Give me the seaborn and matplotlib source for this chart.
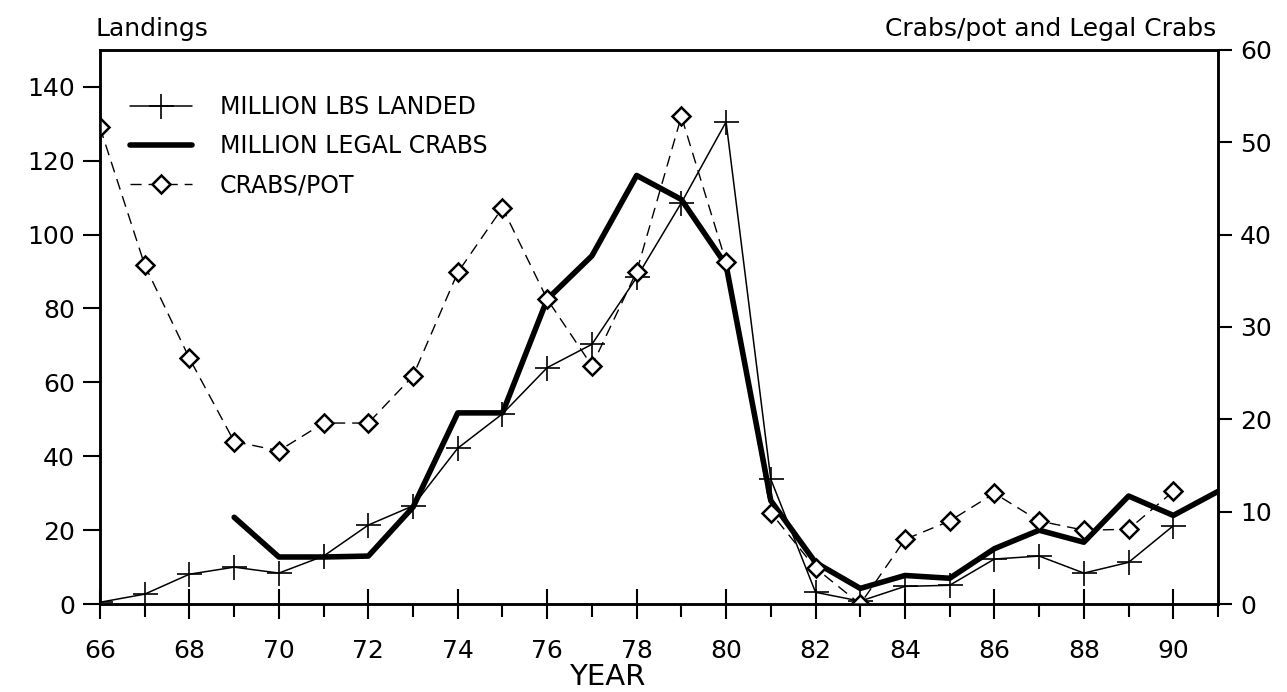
import pandas as pd
import matplotlib.pyplot as plt
import seaborn as sns
from matplotlib.ticker import MultipleLocator

# -------------------------------
# Data
# -------------------------------
years_landed = list(range(66, 91))
lbs_landed = [0.5, 2.7, 8.1, 10.0, 8.4, 13.0, 21.4, 26.6, 42.2, 51.5, 64.0, 70.3,
              88.4, 108.6, 130.5, 33.8, 3.2, 0.8, 4.8, 5.1, 12.2, 13.0, 8.4, 11.3, 21.2]

years_legal = list(range(69, 92))
legal_crabs = [9.4, 5.1, 5.1, 5.2, 10.5, 20.7, 20.7, 33.0, 37.7, 46.4, 43.8, 36.7,
               11.2, 4.5, 1.7, 3.1, 2.8, 6.0, 8.0, 6.7, 11.7, 9.6, 12.2]

years_pot = list(range(66, 91))
crabs_pot = [51.6, 36.7, 26.6, 17.6, 16.6, 19.6, 19.6, 24.7, 35.9, 42.9, 33.0, 25.8,
             36.0, 52.8, 37.0, 9.9, 3.9, 0.0, 7.0, 9.0, 12.0, 9.0, 8.0, 8.1, 12.2]

df_landed = pd.DataFrame({'year': years_landed, 'value': lbs_landed})
df_legal = pd.DataFrame({'year': years_legal, 'value': legal_crabs})
df_pot = pd.DataFrame({'year': years_pot, 'value': crabs_pot})

# -------------------------------
# Style
# -------------------------------
sns.set_style("ticks")
plt.rcParams['font.family'] = ['DejaVu Sans']
plt.rcParams['text.color'] = 'black'
plt.rcParams['xtick.color'] = 'black'
plt.rcParams['ytick.color'] = 'black'
plt.rcParams['axes.edgecolor'] = 'black'
plt.rcParams['axes.labelcolor'] = 'black'

fig = plt.figure(figsize=(12.87, 6.92), dpi=100)
ax = fig.add_axes([0.0777, 0.127, 0.8687, 0.801])
ax2 = ax.twinx()

# -------------------------------
# Lines
# -------------------------------
sns.lineplot(data=df_landed, x='year', y='value', ax=ax, color='black', linewidth=1.1,
             marker='+', markersize=18, markeredgewidth=1.2, markeredgecolor='black',
             label='MILLION LBS LANDED', legend=False)
sns.lineplot(data=df_legal, x='year', y='value', ax=ax2, color='black', linewidth=4,
             label='MILLION LEGAL CRABS', legend=False)
sns.lineplot(data=df_pot, x='year', y='value', ax=ax2, color='black', linewidth=1,
             linestyle=(0, (8, 5)), marker='D', markersize=9, markerfacecolor='white',
             markeredgecolor='black', markeredgewidth=1.8, label='CRABS/POT', legend=False)

# -------------------------------
# Axes
# -------------------------------
ax.set_xlim(66, 91)
ax.set_ylim(0, 150)
ax2.set_ylim(0, 60)

ax.set_xticks(range(66, 92, 2))
ax.xaxis.set_minor_locator(MultipleLocator(1))
ax.set_yticks(range(0, 141, 20))
ax2.set_yticks(range(0, 61, 10))

ax.tick_params(axis='x', which='major', direction='inout', length=22, width=1.5,
               labelsize=18, pad=14)
ax.tick_params(axis='x', which='minor', direction='out', length=9, width=1.5)
ax.tick_params(axis='y', direction='out', length=12, width=1.5, labelsize=18, pad=6)
ax2.tick_params(axis='y', direction='out', length=10, width=1.5, labelsize=18, pad=6)

for a in (ax, ax2):
    for s in a.spines.values():
        s.set_linewidth(1.8)
        s.set_visible(True)

ax.set_xlabel("")
ax.set_ylabel("")
ax2.set_ylabel("")

fig.text(0.4718, 0.001, "YEAR", fontsize=21, ha='center', va='bottom')
fig.text(0.074, 0.958, "Landings", fontsize=18, ha='left', va='center')
fig.text(0.945, 0.958, "Crabs/pot and Legal Crabs", fontsize=18, ha='right', va='center')

# -------------------------------
# Legend
# -------------------------------
h1, l1 = ax.get_legend_handles_labels()
h2, l2 = ax2.get_legend_handles_labels()
leg = ax2.legend(h1 + h2, l1 + l2, loc='upper left', bbox_to_anchor=(0.008, 0.957),
                 frameon=False, fontsize=17, handlelength=2.6, handletextpad=1.2,
                 labelspacing=0.65)

fig.savefig("out.png", dpi=100)
